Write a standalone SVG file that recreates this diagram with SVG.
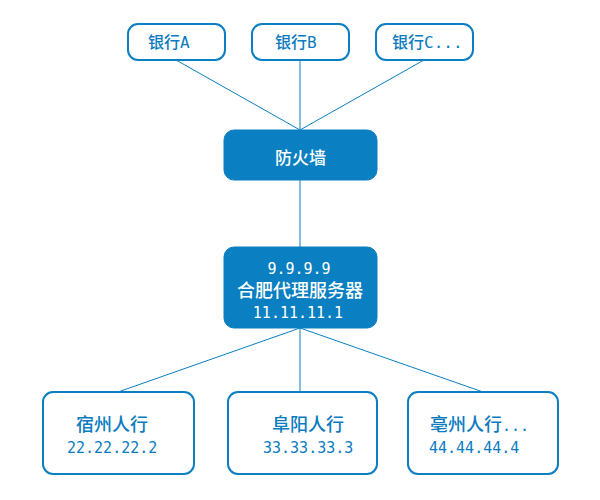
<svg xmlns="http://www.w3.org/2000/svg" width="600" height="500" viewBox="0 0 600 500">
<style>
.ob{fill:#fff;stroke:#0a7fc1;stroke-width:2}
.fb{fill:#0a7fc1;stroke:#0a7fc1;stroke-width:1}
.ln{stroke:#0a7fc1;stroke-width:1;fill:none}
text{font-family:"DejaVu Sans Mono","Noto Sans CJK SC",monospace}
.bt{fill:#0a7bbf}
.wt{fill:#fff}
.zh{font-family:"Noto Sans CJK SC","Liberation Sans",sans-serif;font-weight:500}
</style>
<rect width="600" height="500" fill="#fff"/>
<g id="connectors">
<line class="ln" x1="176" y1="60" x2="300" y2="130"/>
<line class="ln" x1="300" y1="60" x2="300" y2="130"/>
<line class="ln" x1="424" y1="60" x2="300" y2="130"/>
<line class="ln" x1="300" y1="180" x2="300" y2="247"/>
<line class="ln" x1="300" y1="328" x2="118" y2="392"/>
<line class="ln" x1="300" y1="328" x2="300" y2="392"/>
<line class="ln" x1="300" y1="328" x2="483" y2="392"/>
</g>
<g id="bankA">
<rect class="ob" x="128" y="24" width="97" height="36" rx="10"/>
<text class="bt" x="148" y="48" font-size="16"><tspan class="zh" font-size="16">银行</tspan>A</text>
</g>
<g id="bankB">
<rect class="ob" x="252" y="24" width="97" height="36" rx="10"/>
<text class="bt" x="275" y="48" font-size="16"><tspan class="zh" font-size="16">银行</tspan>B</text>
</g>
<g id="bankC">
<rect class="ob" x="376" y="24" width="97" height="36" rx="10"/>
<text class="bt" x="392" y="48" font-size="16"><tspan class="zh" font-size="16">银行</tspan>C...</text>
</g>
<g id="firewall">
<rect class="fb" x="224" y="130" width="153" height="50" rx="10"/>
<text class="wt zh" x="300.5" y="164" font-size="17" text-anchor="middle">防火墙</text>
</g>
<g id="server">
<rect class="fb" x="224" y="247" width="153" height="81" rx="10"/>
<text class="wt" x="299" y="274" font-size="15" text-anchor="middle">9.9.9.9</text>
<text class="wt zh" x="300" y="297" font-size="18" text-anchor="middle">合肥代理服务器</text>
<text class="wt" x="298" y="318" font-size="15" text-anchor="middle">11.11.11.1</text>
</g>
<g id="suzhou">
<rect class="ob" x="43" y="392" width="151" height="82" rx="10"/>
<text class="bt zh" x="76" y="431" font-size="18">宿州人行</text>
<text class="bt" x="67" y="453" font-size="15">22.22.22.2</text>
</g>
<g id="fuyang">
<rect class="ob" x="228" y="392" width="149" height="82" rx="10"/>
<text class="bt zh" x="272" y="431" font-size="18">阜阳人行</text>
<text class="bt" x="263" y="453" font-size="15">33.33.33.3</text>
</g>
<g id="bozhou">
<rect class="ob" x="408" y="392" width="150" height="82" rx="10"/>
<text class="bt" x="430" y="431" font-size="15"><tspan class="zh" font-size="18">亳州人行</tspan>...</text>
<text class="bt" x="429" y="453" font-size="15">44.44.44.4</text>
</g>
</svg>
